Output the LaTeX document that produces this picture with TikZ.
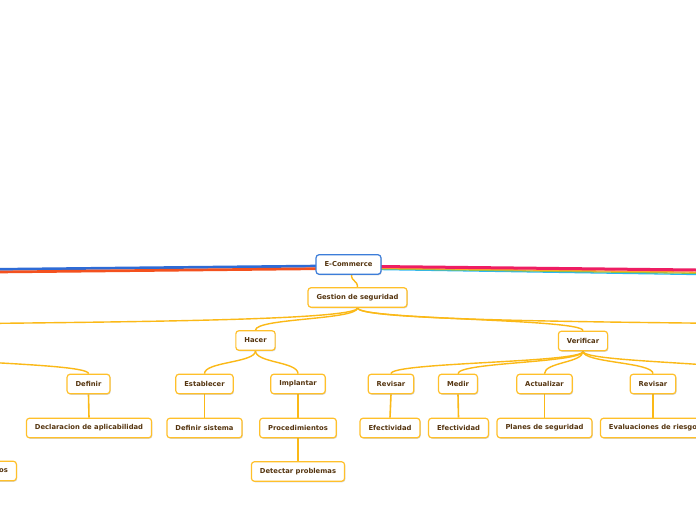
\documentclass[tikz,border=0pt]{standalone}
\usepackage{fontspec}
\setmainfont{DejaVu Sans}
\usetikzlibrary{shadows,calc}
\definecolor{connc}{HTML}{FBB917}
\definecolor{nborder}{HTML}{FFC02A}
\definecolor{ntext}{HTML}{553510}
\definecolor{rootblue}{HTML}{3C7DD9}
\definecolor{lblue}{HTML}{2E6BD6}
\definecolor{lred}{HTML}{F4511E}
\definecolor{lpink}{HTML}{EE1D63}
\definecolor{lorange}{HTML}{FFA726}
\definecolor{lgreen}{HTML}{8BC34A}
\definecolor{lcyan}{HTML}{29B6F6}
\pgfdeclarelayer{bg}
\pgfsetlayers{bg,main}
\tikzset{
  topic/.style={draw=nborder, line width=1.2pt, fill=white, rounded corners=3pt,
    minimum height=19.5pt, inner xsep=8.5pt, inner ysep=0pt, text=ntext,
    font=\fontsize{6.8}{8}\selectfont\bfseries,
    drop shadow={opacity=0.3, shadow xshift=0.8pt, shadow yshift=-1pt}},
  roottopic/.style={topic, draw=rootblue},
  link/.style={draw=connc, line width=1.4pt},
  vlink/.style={draw=connc, line width=1.6pt},
  thick line/.style={line width=2.7pt},
  thin band/.style={line width=1.3pt}
}
\begin{document}
\begin{tikzpicture}[x=1pt,y=-1pt]
\clip (0,0) rectangle (696,520);

% nodes
\node[roottopic] (ecom) at (348.5,264.5) {E-Commerce};
\node[topic] (gest) at (357.5,297.5) {Gestion de seguridad};
\node[topic] (hacer) at (255.5,340.5) {Hacer};
\node[topic] (verif) at (583,341) {Verificar};
\node[topic] (definir) at (88.5,384) {Definir};
\node[topic] (estab) at (204.5,384) {Establecer};
\node[topic] (implan) at (298,384) {Implantar};
\node[topic] (rev1) at (391,384) {Revisar};
\node[topic] (medir) at (458,384) {Medir};
\node[topic] (actual) at (544.5,384) {Actualizar};
\node[topic] (rev2) at (653,384) {Revisar};
\node[topic] (decl) at (89,428) {Declaracion de aplicabilidad};
\node[topic] (defsis) at (204.5,428) {Definir sistema};
\node[topic] (proc) at (298,428) {Procedimientos};
\node[topic] (efec1) at (390,428) {Efectividad};
\node[topic] (efec2) at (458.5,428) {Efectividad};
\node[topic] (planes) at (544.5,428) {Planes de seguridad};
\node[topic] (eval) at (653,428) {Evaluaciones de riesgo};
\node[topic] (detect) at (298,471.5) {Detectar problemas};
\node[topic, anchor=east] (obj) at (17,471) {Objetivos};

% off-page ends
\coordinate (bEnd) at (-100,270.3);
\coordinate (rEnd) at (-100,273);
\coordinate (pEnd) at (760,270.7);
\coordinate (oEnd) at (760,273);
\coordinate (gEnd) at (760,274.2);
\coordinate (cEnd) at (760,275.5);
\coordinate (planear) at (-60,324);
\coordinate (actuar) at (774,324);
\coordinate (verX) at (760,374);
\coordinate (planX) at (-110,351);

\begin{pgfonlayer}{bg}
  \fill[white] (0,0) rectangle (696,520);
  % main branches from the root
  \draw[lblue, thick line] ($(ecom.west)+(4,1.5)$) -- (bEnd);
  \draw[lred, thick line] ($(ecom.west)+(4,4.2)$) -- (rEnd);
  \draw[lcyan, thin band] ($(ecom.east)+(-4,5)$) -- (cEnd);
  \draw[lgreen, thin band] ($(ecom.east)+(-4,4.3)$) -- (gEnd);
  \draw[lorange, thin band] ($(ecom.east)+(-4,3.6)$) -- (oEnd);
  \draw[lpink, line width=3pt] ($(ecom.east)+(-4,2)$) -- (pEnd);

  % tree connectors
  \draw[link] ($(ecom.south)+(3,0)$) .. controls +(0,7) and +(0,-7) .. (gest.north);
  \draw[link] (gest.south) .. controls +(0,13) and +(160,-2) .. (planear);
  \draw[link] (gest.south) .. controls +(0,13) and +(-160,-2) .. (actuar);
  \draw[link] (gest.south) .. controls +(0,12) and +(0,-12) .. (hacer.north);
  \draw[link] (gest.south) .. controls +(0,12) and +(0,-12) .. (verif.north);

  \draw[link] (planX) .. controls +(0,11.5) and +(0,-11.5) .. (definir.north);
  \draw[link] (hacer.south) .. controls +(0,12) and +(0,-12) .. (estab.north);
  \draw[link] (hacer.south) .. controls +(0,12) and +(0,-12) .. (implan.north);

  \draw[link] (verif.south) .. controls +(0,11.5) and +(0,-11.5) .. (rev1.north);
  \draw[link] (verif.south) .. controls +(0,11.5) and +(0,-11.5) .. (medir.north);
  \draw[link] (verif.south) .. controls +(0,11.5) and +(0,-11.5) .. (actual.north);
  \draw[link] (verif.south) .. controls +(0,11.5) and +(0,-11.5) .. (rev2.north);
  \draw[link] (verif.south) .. controls +(0,11.5) and +(0,-11.5) .. (verX);

  \draw[vlink] (definir.south) -- (decl.north);
  \draw[vlink] (estab.south) -- (defsis.north);
  \draw[vlink] (implan.south) -- (proc.north);
  \draw[vlink] (proc.south) -- (detect.north);
  \draw[vlink] (rev1.south) -- (efec1.north);
  \draw[vlink] (medir.south) -- (efec2.north);
  \draw[vlink] (actual.south) -- (planes.north);
  \draw[vlink] (rev2.south) -- (eval.north);
\end{pgfonlayer}
\end{tikzpicture}
\end{document}
